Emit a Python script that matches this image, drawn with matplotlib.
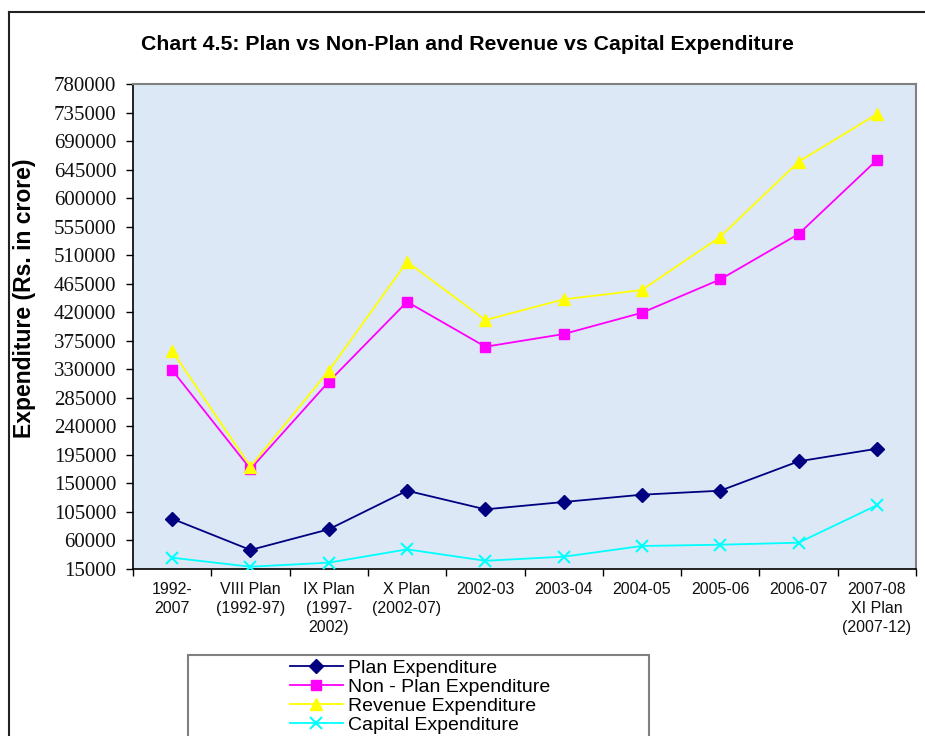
import matplotlib
matplotlib.use("Agg")
import matplotlib.pyplot as plt
from matplotlib.patches import Rectangle
from matplotlib.lines import Line2D
import numpy as np

categories = ["1992-\n2007", "VIII Plan\n(1992-97)", "IX Plan\n(1997-\n2002)", "X Plan\n(2002-07)",
              "2002-03", "2003-04", "2004-05", "2005-06", "2006-07", "2007-08\nXI Plan\n(2007-12)"]
plan = [94300, 45000, 77600, 138500, 109100, 120700, 132200, 138500, 184800, 204700]
non_plan = [328800, 172700, 310400, 436500, 365600, 385600, 419200, 471800, 543300, 660000]
revenue = [358800, 176300, 327700, 499600, 407700, 440300, 455000, 539000, 657300, 732500]
capital = [32800, 18600, 25000, 46000, 28000, 34400, 51300, 53300, 56500, 115500]
y_ticks = list(range(15000, 780001, 45000))

W, H = 925, 736
fig = plt.figure(figsize=(W / 100, H / 100), dpi=100)
fig.patch.set_facecolor("white")

def fx(px):
    return px / W

def fy(py):
    return 1 - py / H

ax = fig.add_axes([fx(133), fy(569), fx(916) - fx(133), fy(84) - fy(569)])
ax.set_facecolor("#dce8f6")

x = np.arange(len(categories))
lw = 1.3
ax.plot(x, plan, color="#000080", lw=lw, marker="D", ms=7, mec="#000080", mfc="#000080", label="Plan Expenditure", zorder=3)
ax.plot(x, non_plan, color="#FF00FF", lw=lw, marker="s", ms=7.5, mec="#FF00FF", mfc="#FF00FF", label="Non - Plan Expenditure", zorder=3)
ax.plot(x, revenue, color="#FFFF00", lw=lw, marker="^", ms=9, mec="#FFFF00", mfc="#FFFF00", label="Revenue Expenditure", zorder=3)
ax.plot(x, capital, color="#00FFFF", lw=lw, marker="x", ms=9, mew=1.5, mec="#00FFFF", label="Capital Expenditure", zorder=3)

ax.set_xlim(-0.5, len(categories) - 0.5)
ax.set_ylim(15000, 780000)
ax.set_yticks(y_ticks)
ax.set_yticklabels([str(v) for v in y_ticks], family="Liberation Serif", fontsize=15, color="#111111")
ax.tick_params(axis="y", direction="out", length=5, width=1, pad=7, color="black")

ax.set_xticks(np.arange(-0.5, len(categories), 1.0))
ax.set_xticklabels([])
ax.tick_params(axis="x", which="major", direction="out", length=5, width=1, color="black")
ax.set_xticks(x, minor=True)
ax.set_xticklabels(categories, minor=True, family="Liberation Sans", fontsize=11.5, linespacing=1.35, color="#111111")
ax.tick_params(axis="x", which="minor", length=0, pad=9)

for s in ["left", "bottom"]:
    ax.spines[s].set_color("black")
    ax.spines[s].set_linewidth(1.2)
for s in ["top", "right"]:
    ax.spines[s].set_color("#808080")
    ax.spines[s].set_linewidth(1.5)

fig.text(fx(25), fy(298), "Expenditure (Rs. in crore)", rotation=90, ha="center", va="center",
         family="Liberation Sans", fontweight="bold", fontsize=16.5)

fig.text(fx(467), fy(44), "Chart 4.5: Plan vs Non-Plan and Revenue vs Capital Expenditure",
         ha="center", va="center", family="Liberation Sans", fontweight="bold", fontsize=15.3)

# outer frame
fig.add_artist(Line2D([fx(9), fx(9)], [fy(12), 0], color="#222222", lw=1.5, transform=fig.transFigure))
fig.add_artist(Line2D([fx(9), 1], [fy(12), fy(12)], color="#222222", lw=1.5, transform=fig.transFigure))

# legend frame
fig.add_artist(Rectangle((fx(188), fy(745)), fx(649) - fx(188), fy(655) - fy(745), transform=fig.transFigure,
                         fill=False, edgecolor="#808080", lw=1.5))
handles, labels = ax.get_legend_handles_labels()
leg = fig.legend(handles, labels, loc="upper left", bbox_to_anchor=(fx(290), fy(659)),
                 frameon=False, prop={"family": "Liberation Sans", "size": 14},
                 handlelength=2.7, handletextpad=0.3, labelspacing=0.07, borderpad=0, borderaxespad=0)

fig.savefig("out.png", dpi=100)
